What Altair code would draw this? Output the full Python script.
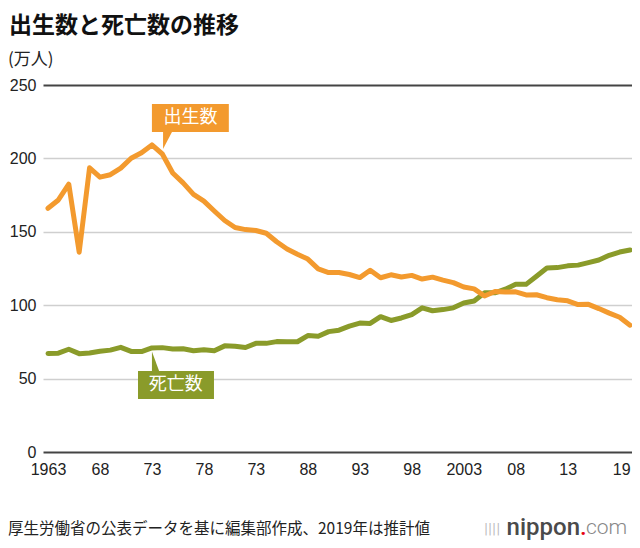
import altair as alt
import pandas as pd

# ---------------- data ----------------
years = list(range(1963, 2020))
births = [166.0, 171.7, 182.4, 136.1, 193.6, 187.2, 188.9, 193.4, 200.1, 203.9,
          209.2, 203.0, 190.1, 183.3, 175.5, 170.9, 164.2, 157.7, 152.9, 151.5,
          150.9, 149.0, 143.2, 138.3, 134.7, 131.4, 124.7, 122.2, 122.3, 120.9,
          118.8, 123.8, 118.7, 120.7, 119.2, 120.3, 117.8, 119.1, 117.1, 115.4,
          112.4, 111.1, 106.3, 109.3, 109.0, 109.1, 107.0, 107.1, 105.1, 103.7,
          103.0, 100.4, 100.6, 97.7, 94.6, 91.8, 86.4]
deaths = [67.1, 67.3, 70.0, 67.0, 67.5, 68.6, 69.4, 71.3, 68.5, 68.4,
          70.9, 71.1, 70.2, 70.3, 69.0, 69.6, 69.0, 72.3, 72.0, 71.2,
          74.0, 74.0, 75.2, 75.1, 75.1, 79.3, 78.9, 82.0, 83.0, 85.7,
          87.8, 87.6, 92.2, 89.6, 91.3, 93.6, 98.2, 96.2, 97.0, 98.2,
          101.5, 102.9, 108.4, 108.4, 110.9, 114.2, 114.2, 119.7, 125.3, 125.6,
          126.8, 127.3, 129.0, 130.8, 134.0, 136.2, 137.6]
tick_years = [1963, 1968, 1973, 1978, 1983, 1988, 1993, 1998, 2003, 2008, 2013, 2019]
tick_labels = ["1963", "68", "73", "78", "73", "88", "93", "98", "2003", "08", "13", "19"]
y_ticks = [0, 50, 100, 150, 200, 250]
series_names = ["出生数", "死亡数"]
series_colors = ["#F39A2E", "#8A9B2A"]

title_text = "出生数と死亡数の推移"
unit_text = "(万人)"
source_text = "厚生労働省の公表データを基に編集部作成、2019年は推計値"

# ---------------- tables ----------------
births_df = pd.DataFrame({"year": years, "value": births, "series": series_names[0]})
deaths_df = pd.DataFrame({"year": years, "value": deaths, "series": series_names[1]})

# callout boxes (annotation layout, in data units)
boxes_df = pd.DataFrame({
    "series": series_names,
    "x": [1973.0, 1971.66], "x2": [1980.4, 1978.97],
    "y": [218.0, 36.1], "y2": [237.1, 55.2],
    "cx": [1976.7, 1975.3], "cy": [227.6, 45.7],
})
ptr_df = pd.DataFrame({
    "series": [series_names[0]] * 2 + [series_names[1]] * 2,
    "x": [1974.07, 1974.93, 1973.0, 1973.7],
    "y": [206.4, 218.0, 68.5, 55.0],
    "y2": [218.0, 218.0, 55.0, 55.0],
})

NUM_FONT = "Liberation Sans"
JP_FONT = "Noto Sans CJK JP"

x_scale = alt.Scale(domain=[1962.52, 2019.19], nice=False, zero=False)
y_scale = alt.Scale(domain=[0, 250], nice=False, zero=True)
color = alt.Color("series:N", scale=alt.Scale(domain=series_names, range=series_colors), legend=None)

label_expr = "[" + ",".join("'%s'" % t for t in tick_labels) + "][indexof([" + \
    ",".join(str(v) for v in tick_years) + "], datum.value)]"

x_axis = alt.Axis(values=tick_years, labelExpr=label_expr, title=None, grid=False,
                  ticks=False, domain=False, labelFontSize=16, labelFont=NUM_FONT,
                  labelColor="#222", labelPadding=9,
                  labelAlign={"condition": {"test": "datum.value == 2019", "value": "right"},
                              "value": "center"})
y_axis = alt.Axis(values=y_ticks, title=None, grid=True, ticks=False, domain=False,
                  labelFontSize=16, labelFont=NUM_FONT, labelColor="#222", labelPadding=7,
                  gridColor={"condition": {"test": "datum.value == 0 || datum.value == 250",
                                           "value": "#444"}, "value": "#cfcfcf"},
                  gridWidth={"condition": {"test": "datum.value == 0 || datum.value == 250",
                                           "value": 2}, "value": 1.5})

def line_layer(df):
    return alt.Chart(df).mark_line(strokeWidth=5, strokeJoin="round", strokeCap="round").encode(
        x=alt.X("year:Q", scale=x_scale, axis=x_axis),
        y=alt.Y("value:Q", scale=y_scale, axis=y_axis),
        color=color,
    )

deaths_line = line_layer(deaths_df)
births_line = line_layer(births_df)

boxes = alt.Chart(boxes_df).mark_rect().encode(
    x=alt.X("x:Q", scale=x_scale, title=None), x2="x2:Q",
    y=alt.Y("y:Q", scale=y_scale, title=None), y2="y2:Q",
    color=color,
)
pointers = alt.Chart(ptr_df).mark_area(opacity=1).encode(
    x=alt.X("x:Q", scale=x_scale, title=None),
    y=alt.Y("y:Q", scale=y_scale, title=None), y2="y2:Q",
    color=color,
    detail="series:N",
)
box_text = alt.Chart(boxes_df).mark_text(font=JP_FONT, fontSize=18, color="white",
                                         baseline="middle", align="center").encode(
    x=alt.X("cx:Q", scale=x_scale, title=None),
    y=alt.Y("cy:Q", scale=y_scale, title=None),
    text="series:N",
)

def label(txt, x, y, **kw):
    return alt.Chart(pd.DataFrame({"t": [txt]})).mark_text(baseline="middle", **kw).encode(
        x=alt.value(x), y=alt.value(y), text="t:N")

title = label(title_text, -34, -59, font=JP_FONT, fontSize=23, fontWeight="bold",
              align="left", color="#111")
unit = label(unit_text, -35, -25, font=JP_FONT, fontSize=17, align="left", color="#222")
source = label(source_text, -35, 444, font=JP_FONT, fontSize=15.5, align="left", color="#222")
logo_icon = label("||||", 441, 444, font="DejaVu Sans", fontSize=12, align="left", color="#bbbbbb")
logo_a = label("nippon", 537, 443, font="Roboto", fontSize=24, fontWeight=500, align="right", color="#4a4a4a")
logo_b = label(".", 537, 443, font="Roboto", fontSize=24, fontWeight=500, align="left", color="#e60012")
logo_c = label("com", 543, 443, font="Roboto", fontSize=21, fontWeight=300, align="left", color="#888888")

chart = alt.layer(
    deaths_line, births_line, pointers, boxes, box_text,
    title, unit, source, logo_icon, logo_a, logo_b, logo_c
).properties(
    width=589, height=367,
    padding={"left": 35, "top": 77, "right": 0, "bottom": 88},
    autosize="none",
).configure_view(stroke=None)

chart.save("out.html", embed_options={"renderer": "svg", "actions": False})
